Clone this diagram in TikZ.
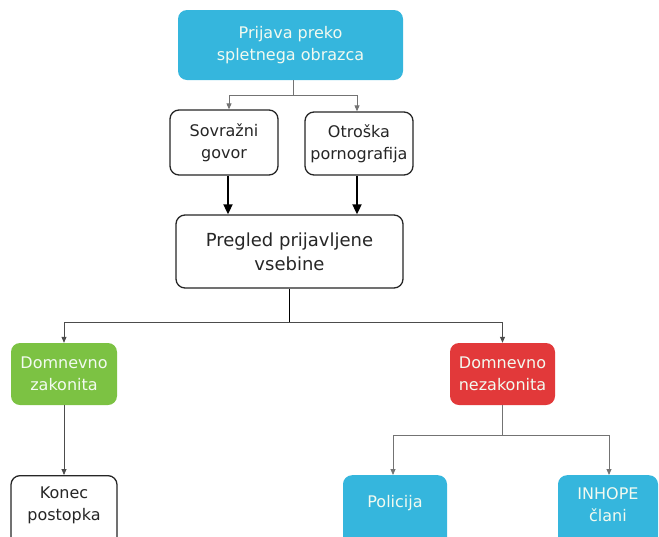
\documentclass[tikz,border=0pt]{standalone}
\usepackage{fontspec}
\setmainfont{DejaVu Sans}
\usetikzlibrary{arrows.meta}
\definecolor{cyanbox}{HTML}{35B6DD}
\definecolor{greenbox}{HTML}{7CC243}
\definecolor{redbox}{HTML}{E2393A}
\definecolor{lightfg}{HTML}{F2FAF0}
\tikzset{
  base/.style={rounded corners=9pt, align=center, inner sep=0pt, font=\fontsize{16}{22}\selectfont},
  whitebox/.style={base, draw=black!85, line width=1.3pt, fill=white, text=black!85},
  colbox/.style={base, text=lightfg},
  lbl/.style={font=\fontsize{16}{22}\selectfont, align=center},
  thin/.style={draw=black!55, line width=0.8pt, -{Triangle[length=6pt,width=5pt]}},
  thinl/.style={draw=black!55, line width=0.8pt},
  thick/.style={draw=black, line width=1.8pt, -{Triangle[length=10pt,width=9pt]}},
}
\begin{document}
\begin{tikzpicture}[x=1pt,y=-1pt]
\useasboundingbox (0,0) rectangle (659,536);
\clip (0,0) rectangle (659,536);
\node[colbox, fill=cyanbox, minimum width=225pt, minimum height=70pt] (top) at (290.5,45) {Prijava preko\\spletnega obrazca};
\node[whitebox, minimum width=108pt, minimum height=65pt] (sov) at (224,142.5) {Sovražni\\govor};
\node[whitebox, minimum width=108pt, minimum height=63pt] (otr) at (359,143.5) {Otroška\\pornografija};
\node[whitebox, minimum width=227pt, minimum height=73pt, font=\fontsize{18}{24}\selectfont] (preg) at (289.5,251.5) {Pregled prijavljene\\vsebine};
\node[colbox, fill=greenbox, minimum width=106pt, minimum height=62pt] (zak) at (64,374) {Domnevno\\zakonita};
\node[colbox, fill=redbox, minimum width=105pt, minimum height=62pt] (nez) at (502.5,374) {Domnevno\\nezakonita};
\node[whitebox, minimum width=106pt, minimum height=72pt, anchor=north] (kon) at (64,475) {};
\node[lbl, text=black!85] (kont) at (64,505) {Konec\\postopka};
\node[colbox, fill=cyanbox, minimum width=104pt, minimum height=72pt, anchor=north] (pol) at (395,475) {};
\node[lbl, text=lightfg] (polt) at (395,503) {Policija};
\node[colbox, fill=cyanbox, minimum width=100pt, minimum height=72pt, anchor=north] (inh) at (608,475) {};
\node[lbl, text=lightfg] (inht) at (608,505) {INHOPE\\člani};
% connectors
\coordinate (j1) at (293,95);
\draw[thinl] (top.south -| j1) -- (j1);
\draw[thin] (j1) -| (sov.north -| 229,0);
\draw[thin] (j1) -| (otr.north -| 357,0);
\draw[thick] (sov.south -| 228,0) -- (preg.north -| 228,0);
\draw[thick] (otr.south -| 357,0) -- (preg.north -| 357,0);
\coordinate (j2) at (289,322);
\draw[thinl, draw=black] (preg.south -| j2) -- (j2);
\draw[thin, draw=black!70] (j2) -| (zak.north);
\draw[thin, draw=black!70] (j2) -| (nez.north);
\draw[thin, draw=black!70] (zak.south) -- (kon.north);
\coordinate (j3) at (502.5,435);
\draw[thinl] (nez.south) -- (j3);
\draw[thin] (j3) -| (pol.north -| 393,0);
\draw[thin] (j3) -| (inh.north -| 609,0);
\end{tikzpicture}
\end{document}
